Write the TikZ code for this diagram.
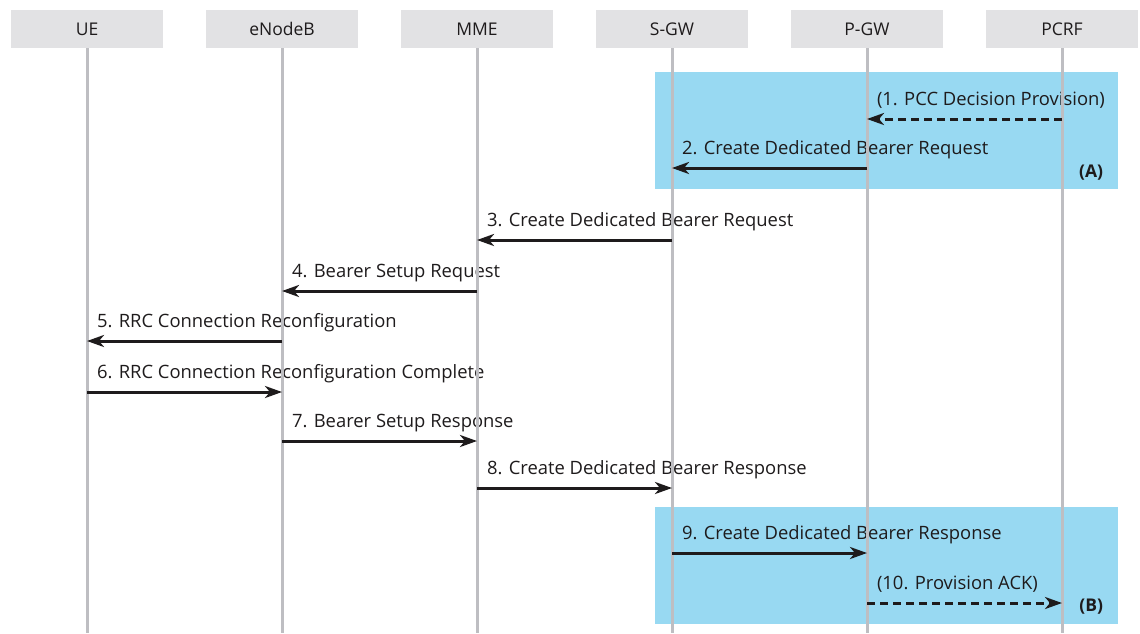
\documentclass[tikz,border=0pt]{standalone}
\usepackage{fontspec}
\setmainfont{Open Sans}
\usetikzlibrary{positioning,arrows.meta}

\definecolor{headgray}{RGB}{226,226,228}
\definecolor{linegray}{RGB}{190,190,194}
\definecolor{areablue}{RGB}{152,217,242}
\definecolor{inkblack}{RGB}{30,27,28}

\begin{document}
\begin{tikzpicture}[x=1pt, y=-1pt,
            node distance=43pt,
            every node/.style = {text=inkblack, inner sep=0pt, outer sep=0pt},
            head/.style = {fill=headgray, minimum width=152pt, minimum height=38pt,
                           font=\fontsize{17.5}{20}\selectfont},
            life/.style = {draw=linegray, line width=3pt},
            area/.style = {fill=areablue, minimum width=463pt, minimum height=117pt},
            msgtext/.style = {anchor=base west, xshift=10pt, yshift=14pt,
                              font=\fontsize{18.4}{21}\selectfont},
            tag/.style = {anchor=base east, font=\fontsize{17.5}{20}\selectfont\bfseries},
            msg/.style = {draw=inkblack, line width=3pt,
                          -{Stealth[length=17pt, width=12pt, inset=5pt]}},
            ack/.style = {msg, dash pattern=on 8pt off 5pt}]
    \useasboundingbox (0,0) rectangle (1140,633);
    \coordinate (bottom) at (0,633);

    % entities
    \node[head] (ue) at (87,29) {UE};
    \node[head, right=of ue] (enb) {eNodeB};
    \node[head, right=of enb] (mme) {MME};
    \node[head, right=of mme] (sgw) {S-GW};
    \node[head, right=of sgw] (pgw) {P-GW};
    \node[head, right=of pgw] (pcrf) {PCRF};

    % shaded procedure parts
    \node[area] (areaA) at (886.5,130.5) {};
    \node[area] (areaB) at (886.5,565.5) {};
    \node[tag] at ([xshift=-15pt, yshift=12pt]areaA.south east) {(A)};
    \node[tag] at ([xshift=-15pt, yshift=13pt]areaB.south east) {(B)};

    \def\messages{119/pcrf/pgw/pgw/ack/{(1. PCC Decision Provision)},
                  168/pgw/sgw/sgw/msg/{2. Create Dedicated Bearer Request},
                  240/sgw/mme/mme/msg/{3. Create Dedicated Bearer Request},
                  291/mme/enb/enb/msg/{4. Bearer Setup Request},
                  341/enb/ue/ue/msg/{5. RRC Connection Reconfiguration},
                  392/ue/enb/ue/msg/{6. RRC Connection Reconfiguration Complete},
                  441/enb/mme/enb/msg/{7. Bearer Setup Response},
                  488/mme/sgw/mme/msg/{8. Create Dedicated Bearer Response},
                  553/sgw/pgw/sgw/msg/{9. Create Dedicated Bearer Response},
                  603/pgw/pcrf/pgw/ack/{(10. Provision ACK)}}

    % labels
    \foreach \y/\from/\to/\lft/\kind/\txt in \messages {
        \coordinate (m) at (0,\y);
        \node[msgtext] at (\lft |- m) {\txt};
    }

    % lifelines
    \foreach \e in {ue,enb,mme,sgw,pgw,pcrf}
        \draw[life] (\e.south) -- (\e.south |- bottom);

    % messages
    \foreach \y/\from/\to/\lft/\kind/\txt in \messages {
        \coordinate (m) at (0,\y);
        \draw[\kind] (\from |- m) -- (\to |- m);
    }
\end{tikzpicture}
\end{document}
